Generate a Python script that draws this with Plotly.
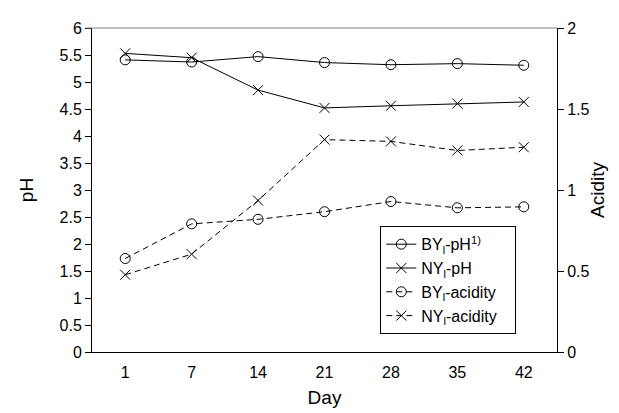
import plotly.graph_objects as go

days = ["1", "7", "14", "21", "28", "35", "42"]
by_ph = [5.41, 5.37, 5.47, 5.36, 5.32, 5.34, 5.31]
ny_ph = [5.53, 5.45, 4.85, 4.52, 4.56, 4.60, 4.63]
by_acid = [0.577, 0.791, 0.819, 0.866, 0.929, 0.89, 0.896]
ny_acid = [0.477, 0.604, 0.935, 1.311, 1.30, 1.244, 1.264]

names = ["BY<sub>l</sub>-pH<sup>1)</sup>", "NY<sub>l</sub>-pH",
         "BY<sub>l</sub>-acidity", "NY<sub>l</sub>-acidity"]
PAD = "&nbsp;&nbsp;&nbsp;"

FONT = "Liberation Sans, Arial, sans-serif"
fig = go.Figure()
circ = dict(symbol="circle-open", size=10, color="black", line=dict(width=1, color="black"))
xm = dict(symbol="x-thin-open", size=10, color="black", line=dict(width=1, color="black"))
fig.add_trace(go.Scatter(x=days, y=by_ph, name=names[0] + PAD, mode="lines+markers",
                         line=dict(color="black", width=1), marker=circ))
fig.add_trace(go.Scatter(x=days, y=ny_ph, name=names[1] + PAD, mode="lines+markers",
                         line=dict(color="black", width=1), marker=xm))
fig.add_trace(go.Scatter(x=days, y=by_acid, name=names[2] + PAD, mode="lines+markers", yaxis="y2",
                         line=dict(color="black", width=1, dash="6px,4px"), marker=circ))
fig.add_trace(go.Scatter(x=days, y=ny_acid, name=names[3] + PAD, mode="lines+markers", yaxis="y2",
                         line=dict(color="black", width=1, dash="6px,4px"), marker=xm))

fig.update_layout(
    width=619, height=413,
    margin=dict(l=84, r=70, t=16, b=69),
    paper_bgcolor="white", plot_bgcolor="white",
    font=dict(family=FONT, size=16, color="black"),
    showlegend=True,
    legend=dict(x=0.62, y=0.388, xanchor="left", yanchor="top",
                bordercolor="black", borderwidth=1, bgcolor="white",
                font=dict(size=16), tracegroupgap=0, itemwidth=30),
    xaxis=dict(type="category", range=[-0.5, 6.5], showline=True, linecolor="black",
               linewidth=1, ticks="outside", ticklen=6, tickcolor="rgba(0,0,0,0)",
               showgrid=False, zeroline=False, tickfont=dict(size=16),
               title=dict(text="Day", standoff=10, font=dict(size=19))),
    yaxis=dict(range=[0, 6], dtick=0.5, ticks="outside", ticklen=6, tickcolor="black",
               showline=True, linecolor="black", showgrid=False, zeroline=False,
               tickfont=dict(size=16),
               title=dict(text="pH", standoff=20, font=dict(size=19))),
    yaxis2=dict(range=[0, 2], dtick=0.5, overlaying="y", side="right", ticks="outside",
                ticklen=6, tickcolor="black", showline=True, linecolor="black",
                showgrid=False, zeroline=False, tickfont=dict(size=16),
                title=dict(text="Acidity", standoff=2, font=dict(size=19))),
    shapes=[dict(type="line", xref="paper", yref="paper", x0=-0.013, x1=1.0, y0=1, y1=1,
                 line=dict(color="#808080", width=1))],
)
fig.write_html("out.html")
